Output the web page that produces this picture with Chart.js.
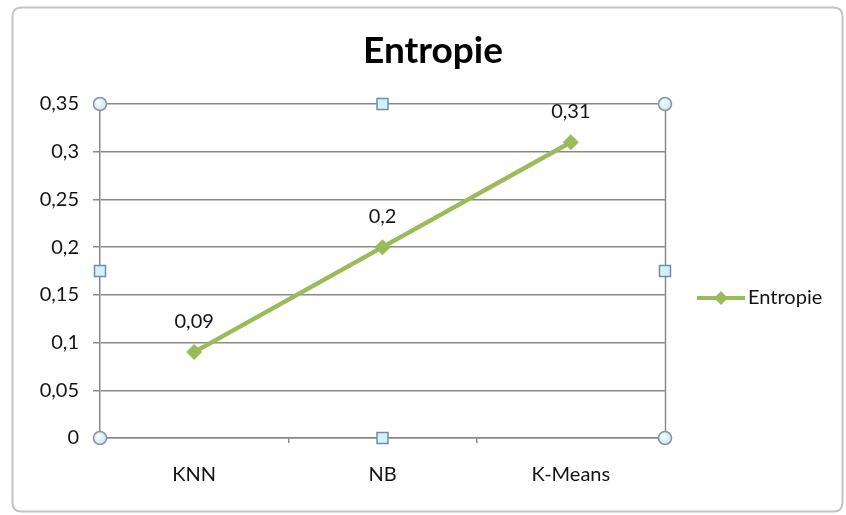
<!DOCTYPE html>
<html>
<head>
<meta charset="utf-8">
<script src="https://cdn.jsdelivr.net/npm/chart.js@4/dist/chart.umd.min.js"></script>
<style>
  html, body { margin: 0; padding: 0; background: #ffffff; }
  #wrap { width: 846px; height: 515px; position: relative; }
</style>
</head>
<body>
<div id="wrap"><canvas id="chart" width="846" height="515"></canvas></div>
<script>
// Entropy per classification method
const categories = ['KNN', 'NB', 'K-Means'];
const entropie = [0.09, 0.2, 0.31];
const yTicks = [0, 0.05, 0.1, 0.15, 0.2, 0.25, 0.3, 0.35];
const seriesName = 'Entropie';
const chartTitle = 'Entropie';

const FONT = 'Lato, "Open Sans", "Liberation Sans", sans-serif';
const GREEN = '#9bbb59';
const GRID = '#8a8a8a';
const TEXT = '#141414';

const fmt = v => String(Math.round(v * 100) / 100).replace('.', ',');

// Rounded outer frame of the chart object, plus the title
const framePlugin = {
  id: 'frame',
  beforeDraw(chart) {
    const c = chart.ctx;
    c.save();
    c.fillStyle = '#ffffff';
    c.fillRect(0, 0, chart.width, chart.height);
    const x = 12.5, y = 7.5, w = 830, h = 504, r = 9;
    c.beginPath();
    c.moveTo(x + r, y);
    c.lineTo(x + w - r, y);
    c.quadraticCurveTo(x + w, y, x + w, y + r);
    c.lineTo(x + w, y + h - r);
    c.quadraticCurveTo(x + w, y + h, x + w - r, y + h);
    c.lineTo(x + r, y + h);
    c.quadraticCurveTo(x, y + h, x, y + h - r);
    c.lineTo(x, y + r);
    c.quadraticCurveTo(x, y, x + r, y);
    c.closePath();
    c.lineWidth = 2;
    c.strokeStyle = '#bfc4c8';
    c.stroke();
    c.font = 'bold 37px ' + FONT;
    c.fillStyle = '#000000';
    c.textAlign = 'center';
    c.textBaseline = 'middle';
    c.fillText(chartTitle, 433, 51);
    c.restore();
  }
};

// Value labels above each point, plot-area border, handles and legend
const overlayPlugin = {
  id: 'overlay',
  afterDatasetsDraw(chart) {
    const c = chart.ctx;
    const a = chart.chartArea;
    c.save();
    // right edge of the plot area
    c.strokeStyle = GRID;
    c.lineWidth = 1.5;
    c.beginPath();
    c.moveTo(Math.round(a.right) + 0.5, a.top);
    c.lineTo(Math.round(a.right) + 0.5, a.bottom);
    c.stroke();

    // value labels
    const meta = chart.getDatasetMeta(0);
    c.font = '20px ' + FONT;
    c.fillStyle = TEXT;
    c.textAlign = 'center';
    c.textBaseline = 'middle';
    meta.data.forEach((pt, i) => {
      c.fillText(fmt(entropie[i]), pt.x, pt.y - 31);
    });

    // selection handles
    const cx = (a.left + a.right) / 2, cy = (a.top + a.bottom) / 2;
    const circles = [[a.left, a.top], [a.right, a.top], [a.left, a.bottom], [a.right, a.bottom]];
    const squares = [[cx, a.top], [cx, a.bottom], [a.left, cy], [a.right, cy]];
    circles.forEach(([x, y]) => {
      const g = c.createRadialGradient(x - 2, y - 2, 1, x, y, 7);
      g.addColorStop(0, '#f4fbfd');
      g.addColorStop(1, '#c9e6ee');
      c.beginPath();
      c.arc(x, y, 6.5, 0, Math.PI * 2);
      c.fillStyle = g;
      c.fill();
      c.lineWidth = 1.5;
      c.strokeStyle = '#8394a3';
      c.stroke();
    });
    squares.forEach(([x, y]) => {
      c.fillStyle = '#d5f0f8';
      c.fillRect(x - 5.5, y - 5.5, 11, 11);
      c.lineWidth = 1.5;
      c.strokeStyle = '#6d8db0';
      c.strokeRect(x - 5.5, y - 5.5, 11, 11);
    });

    // legend
    const ly = cy + 27;
    c.strokeStyle = GREEN;
    c.lineWidth = 4;
    c.beginPath();
    c.moveTo(697, ly);
    c.lineTo(745, ly);
    c.stroke();
    c.fillStyle = GREEN;
    c.beginPath();
    c.moveTo(721, ly - 7);
    c.lineTo(728, ly);
    c.lineTo(721, ly + 7);
    c.lineTo(714, ly);
    c.closePath();
    c.fill();
    c.font = '20px ' + FONT;
    c.fillStyle = TEXT;
    c.textAlign = 'left';
    c.fillText(seriesName, 748, ly);
    c.restore();
  }
};

new Chart(document.getElementById('chart'), {
  type: 'line',
  data: {
    labels: categories,
    datasets: [{
      label: seriesName,
      data: entropie,
      borderColor: GREEN,
      backgroundColor: GREEN,
      borderWidth: 4.5,
      pointStyle: 'rectRot',
      pointRadius: 8,
      pointHoverRadius: 8,
      pointBorderWidth: 0,
      tension: 0
    }]
  },
  options: {
    responsive: false,
    animation: false,
    events: [],
    layout: { padding: { left: 0, right: 181, top: 104, bottom: 8 } },
    plugins: {
      legend: { display: false },
      tooltip: { enabled: false },
      title: { display: false }
    },
    scales: {
      x: {
        offset: true,
        grid: {
          display: true,
          offset: true,
          drawOnChartArea: false,
          drawTicks: true,
          tickLength: 5,
          color: GRID,
          lineWidth: 1.5
        },
        border: { display: true, color: GRID, width: 1.5 },
        ticks: {
          color: TEXT,
          font: { family: FONT, size: 20 },
          padding: 20
        }
      },
      y: {
        min: 0,
        max: 0.35,
        afterFit(scale) { scale.width = 100; },
        afterBuildTicks(scale) { scale.ticks = yTicks.map(v => ({ value: v })); },
        grid: {
          color: GRID,
          lineWidth: 1.5,
          drawTicks: true,
          tickLength: 7
        },
        border: { display: true, color: GRID, width: 1.5 },
        ticks: {
          color: TEXT,
          font: { family: FONT, size: 20 },
          padding: 14,
          callback: v => fmt(v)
        }
      }
    }
  },
  plugins: [framePlugin, overlayPlugin]
});
</script>
</body>
</html>
